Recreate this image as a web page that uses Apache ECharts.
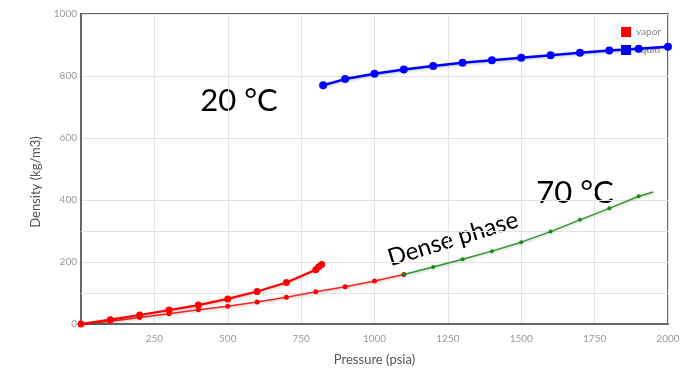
<!DOCTYPE html>
<html>
<head>
<meta charset="utf-8">
<script src="https://cdn.jsdelivr.net/npm/echarts@6/dist/echarts.min.js"></script>
<style>html,body{margin:0;padding:0;background:#fff}#c{width:684px;height:371px}</style>
</head>
<body>
<div id="c"></div>
<script>
// 20 °C vapor branch
const vapor20P = [0, 100, 200, 300, 400, 500, 600, 700, 800, 810, 820];
const vapor20D = [0, 14, 29, 45, 61, 81, 105, 134, 175, 185, 192];
// 20 °C liquid branch
const liquid20P = [825, 900, 1000, 1100, 1200, 1300, 1400, 1500, 1600, 1700, 1800, 1900, 2000];
const liquid20D = [770, 790, 807, 821, 832, 843, 851, 859, 867, 875, 882, 888, 894];
// 70 °C, gas-like part (red)
const gas70P = [0, 100, 200, 300, 400, 500, 600, 700, 800, 900, 1000, 1100];
const gas70D = [0, 9, 21, 33, 46, 57, 71, 86, 104, 120, 139, 160];
// 70 °C, dense phase part (green)
const dense70P = [1100, 1200, 1300, 1400, 1500, 1600, 1700, 1800, 1900, 1950];
const dense70D = [160, 184, 209, 235, 264, 298, 336, 373, 412, 426];
// axis ticks
const xTicks = [0, 250, 500, 750, 1000, 1250, 1500, 1750, 2000];
const yTicks = [0, 200, 400, 600, 800, 1000];
const yMinorLines = [100, 300];

const pairs = (xs, ys) => xs.map((x, i) => [x, ys[i]]);
const shadow = {shadowColor: 'rgba(0,0,0,0.25)', shadowBlur: 3, shadowOffsetY: 1};
const FONT = 'Lato, "Open Sans", sans-serif';

const chart = echarts.init(document.getElementById('c'));
chart.setOption({
  animation: false,
  textStyle: {fontFamily: FONT},
  grid: {left: 81, right: 16, top: 14, bottom: 44, show: true, borderColor: '#666', borderWidth: 2},
  legend: {
    data: ['vapor', 'liquid'], orient: 'vertical', right: 18, top: 22, itemGap: 8,
    icon: 'rect', itemWidth: 10, itemHeight: 10,
    textStyle: {fontSize: 10, color: '#888', fontFamily: FONT}
  },
  xAxis: {
    type: 'value', min: xTicks[0], max: xTicks[xTicks.length - 1], interval: 250,
    name: 'Pressure (psia)', nameLocation: 'middle', nameGap: 29,
    nameTextStyle: {fontSize: 13, color: '#555'},
    axisLine: {show: true, lineStyle: {color: '#666', width: 2}},
    axisTick: {show: false},
    axisLabel: {color: '#999', fontSize: 10, showMinLabel: false, margin: 10, formatter: v => String(v)},
    splitLine: {lineStyle: {color: '#e4e4e4'}}
  },
  yAxis: {
    type: 'value', min: yTicks[0], max: yTicks[yTicks.length - 1], interval: 200,
    axisLine: {show: true, lineStyle: {color: '#666', width: 2}},
    axisTick: {show: false},
    axisLabel: {color: '#999', fontSize: 10, margin: 4, formatter: v => String(v)},
    splitLine: {lineStyle: {color: '#e4e4e4'}}
  },
  series: [
    {
      name: 'vapor', type: 'line', data: pairs(vapor20P, vapor20D),
      symbol: 'circle', symbolSize: 7, color: '#ff0000',
      lineStyle: Object.assign({width: 2.2, color: '#ff0000'}, shadow),
      itemStyle: {color: '#ff0000'}, z: 4,
      markLine: {
        silent: true, symbol: 'none', label: {show: false},
        lineStyle: {color: '#e4e4e4', type: 'solid', width: 1},
        data: yMinorLines.map(v => ({yAxis: v})), z: 1
      }
    },
    {
      name: 'liquid', type: 'line', data: pairs(liquid20P, liquid20D),
      symbol: 'circle', symbolSize: 8, color: '#0000ff',
      lineStyle: Object.assign({width: 2.5, color: '#0000ff'}, shadow),
      itemStyle: {color: '#0000ff'}, z: 4
    },
    {
      name: 'vapor', type: 'line', data: pairs(gas70P, gas70D),
      symbol: 'circle', symbolSize: 5, color: '#ff0000',
      lineStyle: Object.assign({width: 1.5, color: '#ff2020'}, shadow),
      itemStyle: {color: '#ff0000'}, z: 3
    },
    {
      name: 'dense', type: 'line',
      data: pairs(dense70P, dense70D).map((p, i, a) => i === a.length - 1 ? {value: p, symbolSize: 0} : p),
      symbol: 'circle', symbolSize: 4, color: '#1e961e',
      lineStyle: Object.assign({width: 1.5, color: '#2a9a2a'}, shadow),
      itemStyle: {color: '#138a13'}, z: 3
    }
  ],
  graphic: [
    {type: 'text', x: 36, y: 182, rotation: Math.PI / 2, style: {text: 'Density (kg/m3)', font: '13px ' + FONT, fill: '#555', textAlign: 'center', textVerticalAlign: 'middle'}},
    {type: 'text', x: 239, y: 101, style: {text: '20 °C', font: '31px ' + FONT, fill: '#000', textAlign: 'center', textVerticalAlign: 'middle'}},
    {type: 'text', x: 575, y: 193, style: {text: '70 °C', font: '31px ' + FONT, fill: '#000', textAlign: 'center', textVerticalAlign: 'middle'}},
    {type: 'text', x: 453, y: 239, rotation: 0.3, style: {text: 'Dense phase', font: '24px ' + FONT, fill: '#000', textAlign: 'center', textVerticalAlign: 'middle'}}
  ]
});
</script>
</body>
</html>
